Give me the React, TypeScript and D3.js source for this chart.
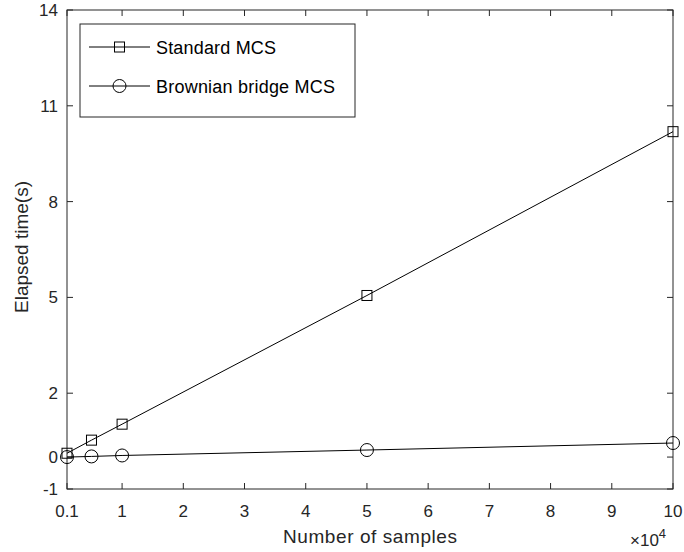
import React from "react";
import * as d3 from "d3";

const samples = [1000, 5000, 10000, 50000, 100000];
const standardMCS = [0.12, 0.53, 1.03, 5.06, 10.19];
const brownianMCS = [0.0, 0.02, 0.05, 0.22, 0.44];
const xTicks = [0.1, 1, 2, 3, 4, 5, 6, 7, 8, 9, 10];
const yTicks = [-1, 0, 2, 5, 8, 11, 14];
const seriesNames = ["Standard MCS", "Brownian bridge MCS"];

const W = 684, H = 552;
const L = 67, R = 673, T = 10, B = 489;
const axisColor = "#262626";
const font = "'Liberation Sans', Arial, Helvetica, sans-serif";

export default function App() {
  const x = d3.scaleLinear().domain([0.1, 10]).range([L, R]);
  const y = d3.scaleLinear().domain([-1, 14]).range([B, T]);
  const line = d3
    .line<[number, number]>()
    .x((d) => x(d[0] / 1e4))
    .y((d) => y(d[1]));
  const std: [number, number][] = samples.map((s, i) => [s, standardMCS[i]]);
  const bb: [number, number][] = samples.map((s, i) => [s, brownianMCS[i]]);
  const tl = 6;
  return (
    <svg width={W} height={H} style={{ position: "absolute", left: 0, top: 0, background: "#fff" }} fontFamily={font}>
      <rect x={0} y={0} width={W} height={H} fill="#fff" />
      {xTicks.map((t) => (
        <g key={"x" + t}>
          <line x1={x(t)} x2={x(t)} y1={B} y2={B - tl} stroke={axisColor} />
          <line x1={x(t)} x2={x(t)} y1={T} y2={T + tl} stroke={axisColor} />
          <text x={x(t)} y={517} textAnchor="middle" fontSize={17} fill={axisColor}>
            {t}
          </text>
        </g>
      ))}
      {yTicks.map((t) => (
        <g key={"y" + t}>
          <line x1={L} x2={L + tl} y1={y(t)} y2={y(t)} stroke={axisColor} />
          <line x1={R} x2={R - tl} y1={y(t)} y2={y(t)} stroke={axisColor} />
          <text x={58} y={y(t) + 6} textAnchor="end" fontSize={17} fill={axisColor}>
            {t}
          </text>
        </g>
      ))}
      <rect x={L} y={T} width={R - L} height={B - T} fill="none" stroke={axisColor} strokeWidth={1} />
      <path d={line(std) || ""} fill="none" stroke="#000" strokeWidth={1} />
      <path d={line(bb) || ""} fill="none" stroke="#000" strokeWidth={1} />
      {std.map((d, i) => (
        <rect key={"s" + i} x={x(d[0] / 1e4) - 5} y={y(d[1]) - 5} width={10} height={10} fill="none" stroke="#000" />
      ))}
      {bb.map((d, i) => (
        <circle key={"b" + i} cx={x(d[0] / 1e4)} cy={y(d[1])} r={6.5} fill="none" stroke="#000" />
      ))}
      <rect x={80} y={24} width={275} height={93} fill="#fff" stroke={axisColor} />
      <line x1={89} x2={150} y1={47} y2={47} stroke="#000" />
      <rect x={114.5} y={42} width={10} height={10} fill="none" stroke="#000" />
      <text x={156} y={54} fontSize={18} fill="#000" textLength={120}>{seriesNames[0]}</text>
      <line x1={89} x2={150} y1={86} y2={86} stroke="#000" />
      <circle cx={119.5} cy={86} r={6.5} fill="none" stroke="#000" />
      <text x={156} y={93} fontSize={18} fill="#000" textLength={179}>{seriesNames[1]}</text>
      <text x={370} y={543} textAnchor="middle" fontSize={19} fill={axisColor} textLength={174}>
        Number of samples
      </text>
      <text transform="translate(28,247) rotate(-90)" textAnchor="middle" fontSize={19} fill={axisColor}>
        Elapsed time(s)
      </text>
      <text x={630} y={546} fontSize={17} fill={axisColor}>
        ×10<tspan dy={-8} fontSize={13}>4</tspan>
      </text>
    </svg>
  );
}
